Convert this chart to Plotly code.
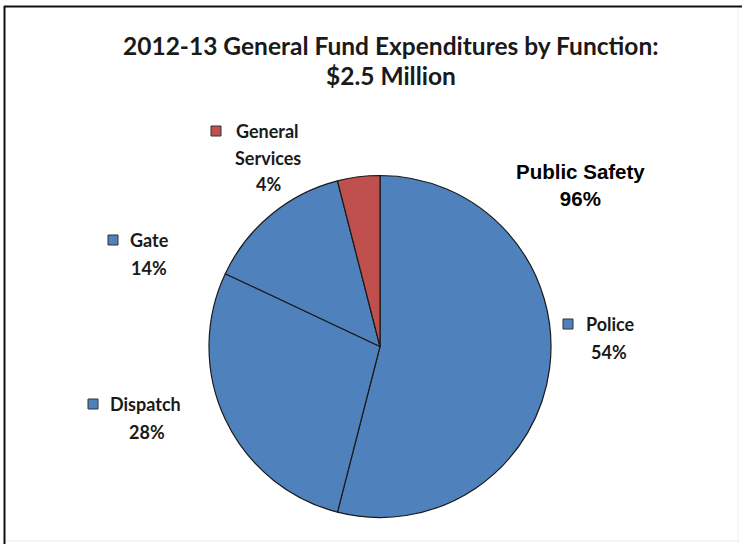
import plotly.graph_objects as go

# Expenditure shares by function (percent of general fund)
functions = ["Police", "Dispatch", "Gate", "General Services"]
shares = [54, 28, 14, 4]
groups = ["Public Safety", "Public Safety", "Public Safety", "General Services"]
slice_colors = ["#4F81BD", "#4F81BD", "#4F81BD", "#C0504D"]

title_lines = ["2012-13 General Fund Expenditures by Function:", "$2.5 Million"]

W, H = 742, 544


def px(x):
    return x / W


def py(y):
    return 1 - y / H


fig = go.Figure()

# Pie: centre (380, 346), radius 171 px
cx, cy, r = 380, 346.5, 171
fig.add_trace(go.Pie(
    labels=functions,
    values=shares,
    marker=dict(colors=slice_colors, line=dict(color="#1a1a1a", width=1.2)),
    sort=False,
    direction="clockwise",
    rotation=0,
    textinfo="none",
    hoverinfo="label+percent",
    showlegend=False,
    domain=dict(x=[px(cx - r), px(cx + r)], y=[py(cy + r), py(cy - r)]),
))

label_font = dict(family="Lato, Open Sans, sans-serif", size=18, color="#1a1a1a", weight="bold")

# Outside labels: (marker square centre, name text lines, value line centre)
label_layout = {
    "General Services": dict(sq=(216, 131), name=["General", "Services"], name_x=[234, 268], name_y=[131, 158],
                             anchor=["left", "center"], val=(268, 184)),
    "Gate": dict(sq=(113, 240), name=["Gate"], name_x=[128], name_y=[240], anchor=["left"], val=(149, 268)),
    "Police": dict(sq=(568, 324), name=["Police"], name_x=[584], name_y=[324], anchor=["left"], val=(609, 352)),
    "Dispatch": dict(sq=(93, 404), name=["Dispatch"], name_x=[108], name_y=[404], anchor=["left"], val=(147, 432)),
}

shapes = []
annotations = []
for fn, val, col in zip(functions, shares, slice_colors):
    spec = label_layout[fn]
    sx, sy = spec["sq"]
    half = 5
    shapes.append(dict(type="rect", xref="paper", yref="paper",
                       x0=px(sx - half), x1=px(sx + half), y0=py(sy + half), y1=py(sy - half),
                       fillcolor=col, line=dict(color="#333333", width=1)))
    for txt, tx, ty, anc in zip(spec["name"], spec["name_x"], spec["name_y"], spec["anchor"]):
        annotations.append(dict(text=txt, x=px(tx), y=py(ty), xref="paper", yref="paper",
                                xanchor=anc, yanchor="middle", showarrow=False, font=label_font))
    vx, vy = spec["val"]
    annotations.append(dict(text=f"{val}%", x=px(vx), y=py(vy), xref="paper", yref="paper",
                            xanchor="center", yanchor="middle", showarrow=False, font=label_font))

# Group total for public safety
ps_total = sum(v for v, g in zip(shares, groups) if g == "Public Safety")
annotations.append(dict(text=f"Public Safety<br>{ps_total}%", x=px(580), y=py(185), xref="paper", yref="paper",
                        xanchor="center", yanchor="middle", showarrow=False,
                        font=dict(family="Liberation Sans, Arial, sans-serif", size=20.5, color="#000000", weight="bold")))

# Title
title_font = dict(family="Lato, Open Sans, sans-serif", size=24.5, color="#1a1a1a", weight="bold")
for line, ty in zip(title_lines, [45, 76]):
    annotations.append(dict(text=line, x=px(391), y=py(ty), xref="paper", yref="paper",
                            xanchor="center", yanchor="middle", showarrow=False, font=title_font))

# Chart frame
shapes.append(dict(type="line", xref="paper", yref="paper", x0=px(4), x1=px(742), y0=py(6.5), y1=py(6.5),
                   line=dict(color="#111111", width=2)))
shapes.append(dict(type="line", xref="paper", yref="paper", x0=px(4.5), x1=px(4.5), y0=py(6), y1=py(544),
                   line=dict(color="#111111", width=2)))
shapes.append(dict(type="line", xref="paper", yref="paper", x0=px(738), x1=px(738), y0=py(8), y1=py(542),
                   line=dict(color="#eeeeee", width=1)))
shapes.append(dict(type="line", xref="paper", yref="paper", x0=px(6), x1=px(738), y0=py(541), y1=py(541),
                   line=dict(color="#eeeeee", width=1)))

fig.update_layout(
    width=W, height=H,
    margin=dict(l=0, r=0, t=0, b=0),
    paper_bgcolor="white",
    plot_bgcolor="white",
    shapes=shapes,
    annotations=annotations,
)

fig.write_html("out.html")
